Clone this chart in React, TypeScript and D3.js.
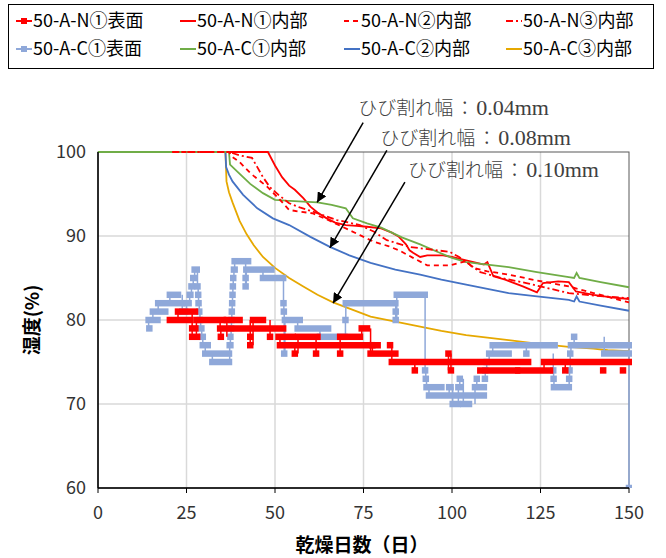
import React from 'react'
import * as d3 from 'd3'

// inner humidity, [day, humidity %]
const nInner1 = [[21, 100], [48, 100], [49, 99.2], [50, 98.4], [52, 97], [54, 96], [55.6, 95.5], [58, 94.5], [60, 93.5], [62, 92.8], [64.6, 92.1], [67, 91.6], [70, 91.3], [73, 91.2], [76, 91.1], [80, 90.9], [83, 90.4], [85, 89.9], [87, 89], [88, 88.3], [89, 88], [91, 87.5], [93, 87.7], [97.5, 87.7], [100, 87.5], [104, 87.1], [107, 86.8], [109, 86.6], [110, 86.9], [111.7, 85.2], [115, 84.8], [120, 84], [124, 83.3], [125.7, 84.4], [130, 84.6], [133, 84.5], [135, 83.4], [140, 83], [145, 82.7], [150, 82.5]]
const nInner2 = [[21, 100], [37, 100], [38, 99.4], [40, 98.8], [43, 97.5], [45, 96.8], [47.7, 95.9], [51, 94.5], [54, 93.1], [57, 92.9], [60.7, 92.7], [65, 91.9], [69, 91.1], [74, 90.1], [78, 89.3], [82, 88.8], [85, 88.3], [89, 87.4], [93, 86.5], [97, 86.5], [99.4, 86.5], [102, 86.8], [104, 87], [106, 86.2], [110, 85.8], [116, 85.4], [124, 84.7], [133, 84], [140, 83.2], [150, 82.1]]
const nInner3 = [[21, 100], [37, 100], [40, 99.6], [43.5, 99.3], [45, 98.2], [46.6, 97], [48.6, 95.8], [51, 94.9], [54, 93.9], [57, 93.4], [60.7, 92.9], [67.5, 91.9], [74, 91.3], [78, 90.5], [81.6, 89.5], [88, 88.7], [95.8, 88.3], [99.4, 88.1], [102, 87.5], [105, 86.6], [108, 85.7], [114, 85], [121, 84.4], [127, 83.8], [133, 83.2], [140, 82.9], [150, 82.6]]
const cInner1 = [[0, 100], [37, 100], [37.3, 98.5], [39, 97.8], [41, 97], [43, 96.2], [46.6, 95.1], [50, 94.3], [53, 94.2], [58, 94.1], [62, 94], [66, 93.7], [70, 93.3], [72, 92.1], [76, 91.5], [80, 91], [83, 90.4], [86, 89.8], [91, 89], [96, 88.1], [100, 87.4], [104, 86.9], [110, 86.6], [116, 86.3], [124, 85.7], [133, 85.1], [134.5, 85], [135.2, 85.6], [136, 85], [142, 84.5], [150, 83.9]]
const cInner2 = [[0, 100], [36, 100], [36.2, 98.2], [37, 97.3], [38, 96.5], [41, 94.9], [45, 93.3], [49.4, 92.1], [54, 91.3], [60, 89.9], [65.5, 88.7], [71, 87.7], [77, 86.8], [84, 86], [91, 85.4], [97, 84.8], [104, 84.2], [110, 83.7], [116, 83.2], [124, 82.8], [133, 82.4], [134.5, 82.2], [135.2, 82.8], [136, 82.2], [142, 81.7], [150, 81.1]]
const cInner3 = [[0, 100], [36, 100], [36.3, 96.5], [37, 95.2], [38, 94], [40, 91.8], [42, 90.2], [44, 88.9], [46.6, 87.5], [50, 86.2], [54, 85], [58, 84], [62, 83], [66.4, 82.1], [72, 81.2], [77, 80.4], [84, 79.8], [91, 79.2], [97, 78.7], [104, 78.2], [110, 77.9], [116, 77.6], [124, 77.2], [133, 76.8], [140, 76.6], [144, 76.4], [150, 76.3]]

// surface humidity as held levels, [from day, to day, humidity %]
const nSurface = [[20.3, 26, 80], [22.6, 27.4, 81], [26.6, 27.5, 79], [26.6, 28, 78], [27.8, 35.3, 80], [34.5, 52.3, 79], [34.7, 34.7, 78], [36.4, 40, 80], [43, 43, 78], [43, 43, 77], [43.8, 46.6, 80], [48.6, 48.6, 78], [51, 55, 78], [51.4, 79, 77], [55.6, 55.6, 76], [56.5, 62, 78], [61.6, 61.6, 76], [68.4, 68.4, 76], [68.4, 74, 78], [74.5, 76, 79], [77, 84, 76], [77.5, 77.5, 77], [82.5, 82.5, 77], [83, 121.5, 75], [89.5, 89.5, 74], [99, 99, 76], [99.7, 99.7, 74], [108, 118.4, 74], [118.7, 127.7, 74], [126, 150, 75], [132, 132, 74], [142.7, 142.7, 74], [148.3, 148.3, 74]]
const cSurface = [[14.5, 14.5, 79], [14.3, 16.8, 80], [15.5, 19, 81], [17, 23.7, 82], [20.3, 22.6, 83], [23.8, 24.6, 81], [25, 25.6, 82], [25.9, 26.1, 83], [26.4, 26.6, 84], [26.9, 27.1, 85], [27.3, 27.9, 86], [28.1, 28.1, 84], [28.3, 28.3, 83], [28.4, 28.4, 82], [28.6, 28.6, 81], [28.8, 28.8, 80], [29, 29.2, 79], [29.3, 29.6, 78], [29.6, 31, 77], [30.3, 37, 76], [32.3, 37, 75], [37.2, 37.4, 77], [37.4, 37.4, 78], [37.6, 37.6, 79], [37.7, 37.7, 80], [37.8, 37.8, 81], [37.9, 37.9, 82], [38, 38, 83], [38.1, 38.1, 84], [38.2, 38.2, 85], [38.4, 38.6, 86], [38.6, 42.4, 87], [41.7, 41.7, 85], [41.7, 41.7, 84], [41.9, 49, 86], [46.6, 52.3, 85], [52.4, 52.4, 82], [52.5, 52.5, 81], [52.6, 52.6, 76], [52.8, 57, 80], [56.4, 65, 79], [62.7, 69.6, 78], [69.9, 69.9, 80], [70, 84, 82], [84.1, 84.1, 81], [84.1, 84.1, 80], [84.4, 92.3, 83], [92.4, 92.4, 74], [92.6, 92.6, 73], [92.8, 97, 72], [93.5, 109, 71], [99.2, 99.6, 72], [100.2, 101.6, 70], [101.8, 102.2, 72], [102.2, 102.2, 73], [103.2, 104.8, 70], [106.5, 109, 72], [107, 107, 73], [109.3, 109.3, 73], [109.4, 109.4, 74], [109.8, 109.8, 75], [110.5, 116, 76], [111.5, 129, 77], [121, 121, 76], [128.6, 128.6, 74], [128.7, 128.7, 73], [128.8, 133, 72], [133.1, 133.1, 73], [133.2, 133.2, 74], [133.4, 133.4, 76], [133.6, 150, 77], [134.5, 134.5, 78], [143, 150, 76], [150, 150, 60]]

const xTicks = [0, 25, 50, 75, 100, 125, 150]
const yTicks = [60, 70, 80, 90, 100]

// legend, row by row
const legendLabels = ['50-A-N①表面', '50-A-N①内部', '50-A-N②内部', '50-A-N③内部', '50-A-C①表面', '50-A-C①内部', '50-A-C②内部', '50-A-C③内部']

// crack width notes: text anchor [day, hum], arrow tail and tip [day, hum]
const noteLabels = ['0.04mm', '0.08mm', '0.10mm']
const noteText = [[73.5, 104.4], [79.7, 100.8], [87.6, 97.0]]
const noteArrows = [[[74.9, 103.5], [61.9, 94.0]], [[81.6, 100.2], [65.5, 88.6]], [[86.7, 96.4], [66.4, 82.0]]]

const RED = '#ff0000'
const GREEN = '#70ad47'
const BLUE = '#4472c4'
const GOLD = '#e6a800'
const GREY_BLUE = '#8fa8d9'

const sans = '"Noto Sans CJK JP", "Noto Sans", sans-serif'

const x = d3.scaleLinear().domain([0, 150]).range([98, 629])
const y = d3.scaleLinear().domain([60, 100]).range([488, 152])
const line = d3.line<number[]>().x(d => x(d[0])).y(d => y(d[1]))

function Surface({runs, color}: {runs: number[][], color: string}) {
  return (
    <g>
      {runs.map((r, i) => i > 0 ?
        <line key={'c' + i} x1={x(r[0])} x2={x(r[0])} y1={y(runs[i - 1][2])} y2={y(r[2])} stroke={color} strokeWidth={1.5} /> : null)}
      {runs.map((r, i) =>
        <line key={'r' + i} x1={x(r[0])} x2={x(r[1])} y1={y(r[2])} y2={y(r[2])} stroke={color} strokeWidth={6.5} strokeLinecap="square" />)}
    </g>
  )
}

function LegendKey({kind, color, x0, y0}: {kind: string, color: string, x0: number, y0: number}) {
  if (kind === 'marker') {
    return (
      <g>
        <line x1={x0} x2={x0 + 16} y1={y0} y2={y0} stroke={color} strokeWidth={2} />
        <rect x={x0 + 5} y={y0 - 3} width={6} height={6} fill={color} />
      </g>
    )
  }
  const dash = kind === 'dash' ? '5,4' : kind === 'dashdot' ? '7,3,2,3' : undefined
  return <line x1={x0} x2={x0 + 16} y1={y0} y2={y0} stroke={color} strokeWidth={2} strokeDasharray={dash} />
}

export default function App() {
  const legendStyle = [
    ['marker', RED], ['solid', RED], ['dash', RED], ['dashdot', RED],
    ['marker', GREY_BLUE], ['solid', GREEN], ['solid', BLUE], ['solid', GOLD],
  ]
  const colX = [16, 180, 344, 506]

  return (
    <svg width={666} height={558} style={{position: 'absolute', left: 0, top: 0, background: '#fff'}}>
      <defs>
        <clipPath id="plot">
          <rect x={98} y={146} width={534} height={342} />
        </clipPath>
        <marker id="arrow" viewBox="0 0 10 10" refX={10} refY={5} markerWidth={10} markerHeight={10} markerUnits="userSpaceOnUse" orient="auto">
          <path d="M0,0 L10,5 L0,10 z" fill="#000" />
        </marker>
      </defs>
      <rect width={666} height={558} fill="#fff" />

      {/* legend */}
      <rect x={8.5} y={4.5} width={645} height={64} fill="none" stroke="#000" strokeWidth={1} />
      {legendLabels.map((lab, i) => {
        const col = i % 4, row = Math.floor(i / 4)
        const y0 = 21 + row * 28
        return (
          <g key={lab}>
            <LegendKey kind={legendStyle[i][0]} color={legendStyle[i][1]} x0={colX[col]} y0={y0} />
            <text x={colX[col] + 17} y={y0} dy="0.36em" fontSize={18} fontFamily={sans} fill="#000">{lab}</text>
          </g>
        )
      })}

      {/* grid */}
      {xTicks.slice(1, -1).map(t => <line key={'gx' + t} x1={x(t)} x2={x(t)} y1={152} y2={488} stroke="#d9d9d9" strokeWidth={1.5} />)}
      {yTicks.slice(1, -1).map(t => <line key={'gy' + t} x1={98} x2={629} y1={y(t)} y2={y(t)} stroke="#d9d9d9" strokeWidth={1.5} />)}
      <rect x={98} y={152} width={531} height={336} fill="none" stroke="#595959" strokeWidth={1} />

      <g clipPath="url(#plot)" fill="none">
        <path d={line(nInner1) || ''} stroke={RED} strokeWidth={1.8} />
        <path d={line(cInner3) || ''} stroke={GOLD} strokeWidth={1.8} />
        <path d={line(cInner2) || ''} stroke={BLUE} strokeWidth={1.8} />
        <path d={line(cInner1) || ''} stroke={GREEN} strokeWidth={1.8} />
        <path d={line(nInner2) || ''} stroke={RED} strokeWidth={1.8} strokeDasharray="5,4" />
        <path d={line(nInner3) || ''} stroke={RED} strokeWidth={1.8} strokeDasharray="7,3,2,3" />
        <Surface runs={cSurface} color={GREY_BLUE} />
        <Surface runs={nSurface} color={RED} />
      </g>

      {/* axes */}
      <line x1={98} x2={98} y1={152} y2={488} stroke="#000" strokeWidth={1.5} />
      <line x1={98} x2={629} y1={488} y2={488} stroke="#000" strokeWidth={1.5} />
      {xTicks.map(t => (
        <g key={'tx' + t}>
          <line x1={x(t)} x2={x(t)} y1={488} y2={493} stroke="#000" strokeWidth={1} />
          <text x={x(t)} y={513} textAnchor="middle" dy="0.36em" fontSize={18} fontFamily={sans} fill="#333">{t}</text>
        </g>
      ))}
      {yTicks.map(t => (
        <text key={'ty' + t} x={86} y={y(t)} textAnchor="end" dy="0.36em" fontSize={18} fontFamily={sans} fill="#333">{t}</text>
      ))}
      <text x={362} y={545} textAnchor="middle" dy="0.36em" fontSize={19} fontWeight="bold" fontFamily={sans} fill="#000">乾燥日数（日）</text>
      <text transform="translate(32,320) rotate(-90)" textAnchor="middle" dy="0.36em" fontSize={19} fontWeight="bold" fontFamily={sans} fill="#000">湿度(%)</text>

      {/* crack width notes */}
      {noteArrows.map((a, i) => (
        <line key={'a' + i} x1={x(a[0][0])} y1={y(a[0][1])} x2={x(a[1][0])} y2={y(a[1][1])} stroke="#000" strokeWidth={1.5} markerEnd="url(#arrow)" />
      ))}
      {noteLabels.map((lab, i) => (
        <text key={'n' + i} x={x(noteText[i][0])} y={y(noteText[i][1])} fontSize={19} fill="#404040" fontFamily={sans} fontWeight={300}>
          ひび割れ幅<tspan dx={2}>：</tspan><tspan dx={2} fontFamily='"Liberation Serif", serif' fontSize={22}>{lab}</tspan>
        </text>
      ))}
    </svg>
  )
}
